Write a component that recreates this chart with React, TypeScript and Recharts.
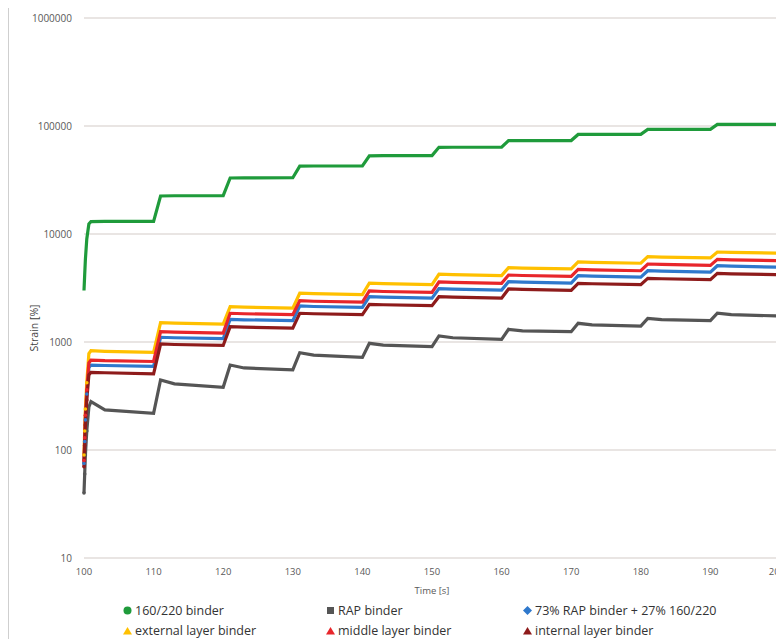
import React from 'react';
import {
  LineChart,
  Line,
  XAxis,
  YAxis,
  CartesianGrid,
  Legend,
} from 'recharts';

// time [s]
const TIME = [
  100, 100.1, 100.2, 100.4, 100.7, 101, 103, 110,
  111, 113, 120, 121, 123, 130, 131, 133, 140,
  141, 143, 150, 151, 153, 160, 161, 163, 170,
  171, 173, 180, 181, 183, 190, 191, 193, 200,
];

// strain [%] per binder
const BINDER_160_220 = [
  3000, 4200, 5800, 9000, 12400, 13000, 13100, 13100,
  22500, 22600, 22700, 33000, 33100, 33200, 42500, 42600, 42700,
  53000, 53100, 53200, 63500, 63600, 63700, 73100, 73200, 73300,
  83500, 83600, 83700, 93000, 93100, 93200, 103500, 103600, 103700,
];
const RAP_BINDER = [
  40, 60, 90, 150, 250, 280, 235, 219,
  445, 410, 381, 612, 575, 551, 796, 755, 721,
  972, 935, 908, 1137, 1095, 1059, 1311, 1270, 1245,
  1490, 1440, 1406, 1657, 1610, 1575, 1845, 1790, 1741,
];
const RAP_73_MIX = [
  75, 120, 190, 330, 580, 612, 606, 594,
  1106, 1095, 1073, 1622, 1606, 1574, 2154, 2132, 2090,
  2626, 2600, 2548, 3118, 3087, 3025, 3615, 3579, 3507,
  4111, 4070, 3988, 4571, 4525, 4434, 5085, 5034, 4933,
];
const EXTERNAL_LAYER = [
  90, 150, 240, 420, 780, 830, 820, 800,
  1510, 1495, 1465, 2120, 2100, 2060, 2830, 2800, 2750,
  3500, 3470, 3400, 4240, 4200, 4120, 4880, 4830, 4750,
  5510, 5460, 5360, 6170, 6110, 6000, 6810, 6750, 6650,
];
const MIDDLE_LAYER = [
  80, 130, 210, 360, 640, 680, 672, 660,
  1245, 1232, 1208, 1845, 1826, 1790, 2410, 2385, 2340,
  2966, 2935, 2880, 3594, 3558, 3490, 4170, 4128, 4050,
  4710, 4663, 4570, 5275, 5222, 5120, 5830, 5770, 5660,
];
const INTERNAL_LAYER = [
  70, 110, 170, 290, 495, 524, 519, 508,
  958, 948, 929, 1386, 1372, 1345, 1845, 1827, 1790,
  2235, 2213, 2168, 2626, 2600, 2547, 3097, 3066, 3004,
  3497, 3462, 3392, 3890, 3851, 3773, 4325, 4282, 4195,
];

const X_TICKS = [100, 110, 120, 130, 140, 150, 160, 170, 180, 190, 200];
const Y_TICKS = [10, 100, 1000, 10000, 100000, 1000000];

const SERIES = [
  { key: 'b160', name: '160/220 binder', values: BINDER_160_220, color: '#1f9b3b', shape: 'circle', dots: false },
  { key: 'rap', name: 'RAP binder', values: RAP_BINDER, color: '#555555', shape: 'square', dots: true },
  { key: 'mix', name: '73% RAP binder + 27% 160/220', values: RAP_73_MIX, color: '#2f78cc', shape: 'diamond', dots: true },
  { key: 'ext', name: 'external layer binder', values: EXTERNAL_LAYER, color: '#ffc000', shape: 'triangle', dots: true },
  { key: 'mid', name: 'middle layer binder', values: MIDDLE_LAYER, color: '#e8262b', shape: 'triangle', dots: true },
  { key: 'int', name: 'internal layer binder', values: INTERNAL_LAYER, color: '#8e1b1b', shape: 'triangle', dots: true },
];

const data = TIME.map((t, i) => {
  const row: Record<string, number> = { time: t };
  SERIES.forEach((s) => {
    row[s.key] = s.values[i];
  });
  return row;
});

const FONT = '"Open Sans", "Liberation Sans", sans-serif';

function Marker({ shape, color }: { shape: string; color: string }) {
  return (
    <svg width={9} height={9} style={{ marginRight: 3, flexShrink: 0 }}>
      {shape === 'circle' && <circle cx={4.5} cy={4.5} r={4} fill={color} />}
      {shape === 'square' && <rect x={1} y={1} width={7} height={7} fill={color} />}
      {shape === 'diamond' && <polygon points="4.5,0 9,4.5 4.5,9 0,4.5" fill={color} />}
      {shape === 'triangle' && <polygon points="4.5,1 9,8.5 0,8.5" fill={color} />}
    </svg>
  );
}

function renderLegend() {
  return (
    <div
      style={{
        display: 'grid',
        gridTemplateColumns: '203px 197px 250px',
        rowGap: 3,
        fontFamily: FONT,
        fontSize: 12.5,
        lineHeight: '16px',
        color: '#333333',
      }}
    >
      {SERIES.map((s) => (
        <div key={s.key} style={{ display: 'flex', alignItems: 'center', height: 17 }}>
          <Marker shape={s.shape} color={s.color} />
          <span>{s.name}</span>
        </div>
      ))}
    </div>
  );
}

function makeDot(color: string, show: boolean) {
  return (props: any) => {
    const { cx, cy, index } = props;
    if (!show || index > 3 || cx == null || cy == null) {
      return <g key={`d-${index}`} />;
    }
    return <circle key={`d-${index}`} cx={cx} cy={cy} r={1.8} fill={color} />;
  };
}

export default function App() {
  return (
    <div style={{ borderLeft: '1px solid #cfcfcf', width: 775, height: 631 }}>
      <LineChart
        width={775}
        height={631}
        data={data}
        margin={{ top: 10, right: 4, bottom: 41, left: 0 }}
      >
        <CartesianGrid vertical={false} stroke="#d3ccc8" strokeWidth={1.2} />
        <XAxis
          dataKey="time"
          type="number"
          domain={[100, 200]}
          ticks={X_TICKS}
          axisLine={false}
          tickLine={false}
          tickSize={0}
          tickMargin={10}
          height={40}
          tick={{ fontSize: 9.5, fill: '#595959', fontFamily: FONT }}
          label={{
            value: 'Time [s]',
            position: 'insideBottom',
            offset: 4,
            style: { fontSize: 9.5, fill: '#595959', fontFamily: FONT },
          }}
        />
        <YAxis
          scale="log"
          domain={[10, 1000000]}
          ticks={Y_TICKS}
          allowDataOverflow
          axisLine={false}
          tickLine={false}
          tickSize={0}
          tickMargin={12}
          width={75}
          tickFormatter={(v) => String(v)}
          tick={{ fontSize: 10, fill: '#595959', fontFamily: FONT }}
          label={{
            content: () => (
              <text
                x={25}
                y={320}
                transform="rotate(-90 25 320)"
                textAnchor="middle"
                dominantBaseline="central"
                style={{ fontSize: 10.5, fill: '#404040', fontFamily: FONT }}
              >
                Strain [%]
              </text>
            ),
          }}
        />
        <Legend
          verticalAlign="middle"
          align="center"
          content={renderLegend}
          wrapperStyle={{ left: 114, top: 594, width: 660 }}
        />
        {SERIES.map((s) => (
          <Line
            key={s.key}
            dataKey={s.key}
            name={s.name}
            stroke={s.color}
            strokeWidth={3.2}
            dot={makeDot(s.color, s.dots)}
            activeDot={false}
            isAnimationActive={false}
          />
        ))}
      </LineChart>
    </div>
  );
}
